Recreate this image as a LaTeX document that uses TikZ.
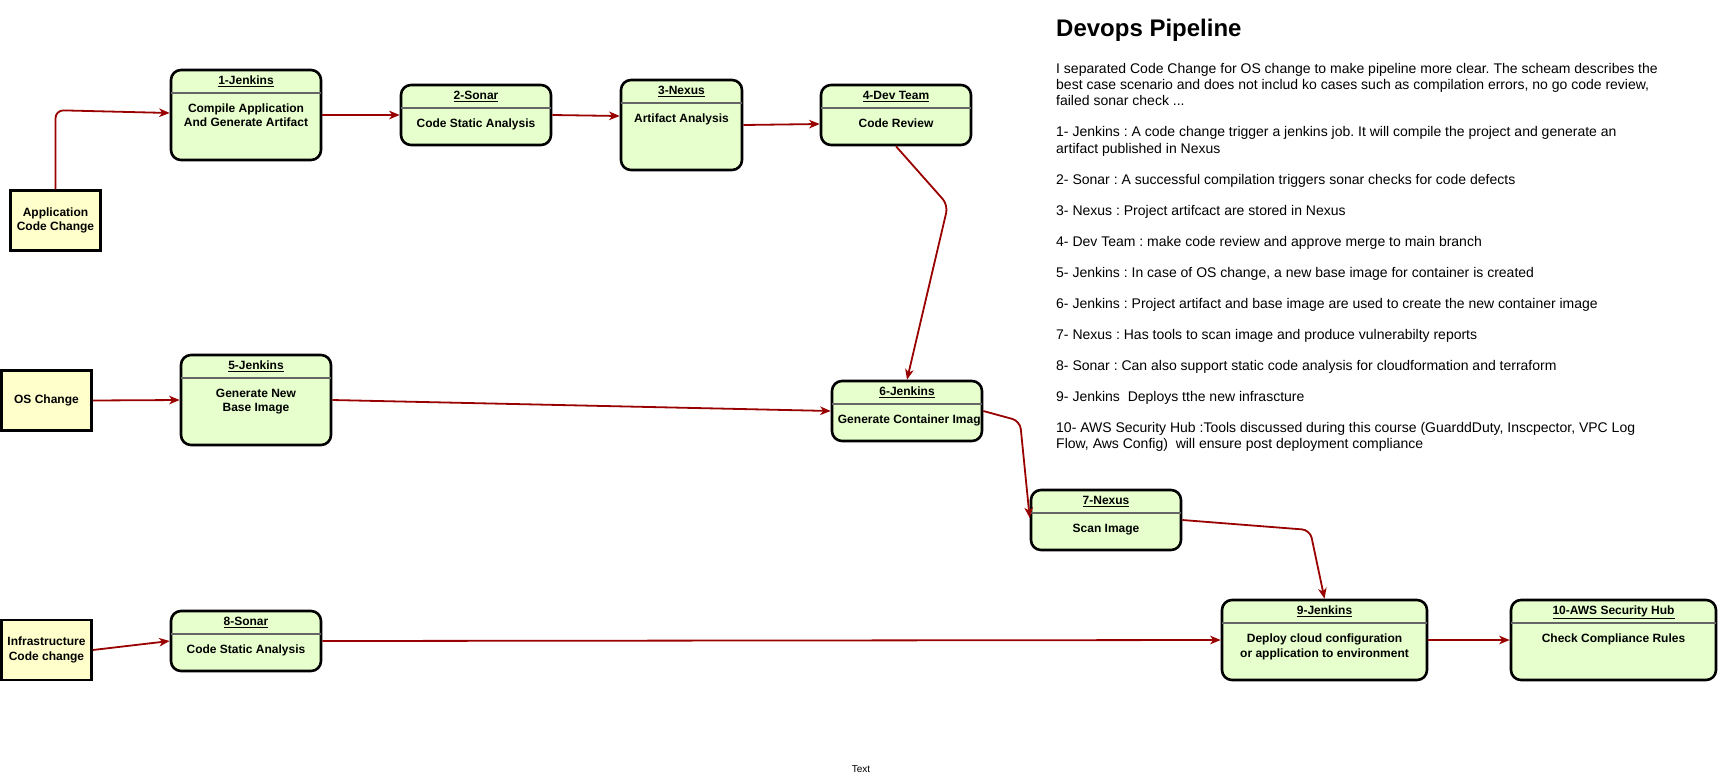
\documentclass[tikz,border=0pt]{standalone}
\usepackage{fontspec}
\setmainfont{Liberation Sans}
\usetikzlibrary{arrows.meta}
\definecolor{sLime}{HTML}{E6FFCC}
\definecolor{sCream}{HTML}{FFFFCC}
\definecolor{sRed}{HTML}{990000}
\definecolor{sGrey}{HTML}{666666}
\frenchspacing

\begin{document}
\begin{tikzpicture}[x=1pt,y=-1pt,>={Stealth[length=10.5pt,width=8.5pt,inset=3pt]}]
		\tikzstyle{STAGE} = [draw=black, line width=2.6pt, fill=sLime, rounded corners=10pt, minimum width=150pt, minimum height=60pt, inner sep=0pt]
		\tikzstyle{TALL} = [STAGE, minimum height=90pt]
		\tikzstyle{WIDE} = [STAGE, minimum width=205pt, minimum height=80pt]
		\tikzstyle{change} = [draw=black, line width=2.6pt, fill=sCream, minimum width=90pt, minimum height=60pt, inner sep=0pt, align=center, font=\fontsize{12}{14.4}\selectfont\bfseries]
		\tikzstyle{head} = [anchor=base, inner sep=0pt, font=\fontsize{12}{14.4}\selectfont\bfseries]
		\tikzstyle{body} = [anchor=north, inner sep=0pt, align=center, font=\fontsize{12}{14.4}\selectfont\bfseries]
		\tikzstyle{flow} = [->, draw=sRed, line width=1.8pt, rounded corners=8pt]
		\tikzset{HEAD/.style={append after command={
					[shorten >=1.3pt, shorten <=1.3pt]
					([yshift=-24pt]\tikzlastnode.north west) edge[draw=sGrey, line width=1.6pt] ([yshift=-24pt]\tikzlastnode.north east)
				}
			}
		}

		\useasboundingbox (0,0) rectangle (1718,777);

		% the three kinds of change
		\node[change] (app) at (55.5,220.5) {Application\\Code Change};
		\node[change] (os) at (46.5,400.5) {OS Change};
		\node[change] (infra) at (46.5,650) {Infrastructure\\Code change};

		% application code row
		\node[TALL, HEAD] (j1) at (246,115) {};
		\node[head] (t1) at ([yshift=-15.5pt]j1.north) {\underline{1-Jenkins}};
		\node[body] (b1) at ([yshift=-35pt]j1.north) {Compile Application\\And Generate Artifact};

		\node[STAGE, HEAD] (s2) at (476,115) {};
		\node[head] (t2) at ([yshift=-15.5pt]s2.north) {\underline{2-Sonar}};
		\node[body] (b2) at ([yshift=-35pt]s2.north) {Code Static Analysis};

		\node[TALL, HEAD, minimum width=121pt] (n3) at (681.5,125) {};
		\node[head] (t3) at ([yshift=-15.5pt]n3.north) {\underline{3-Nexus}};
		\node[body] (b3) at ([yshift=-35pt]n3.north) {Artifact Analysis};

		\node[STAGE, HEAD] (d4) at (896,115) {};
		\node[head] (t4) at ([yshift=-15.5pt]d4.north) {\underline{4-Dev Team}};
		\node[body] (b4) at ([yshift=-35pt]d4.north) {Code Review};

		% os row
		\node[TALL, HEAD] (j5) at (256,400) {};
		\node[head] (t5) at ([yshift=-15.5pt]j5.north) {\underline{5-Jenkins}};
		\node[body] (b5) at ([yshift=-35pt]j5.north) {Generate New\\Base Image};

		\node[STAGE, HEAD] (j6) at (907,411) {};
		\node[head] (t6) at ([yshift=-15.5pt]j6.north) {\underline{6-Jenkins}};
		\node[body, anchor=north west] (b6) at ([xshift=7pt, yshift=-35pt]j6.north west) {Generate Container Imag};

		\node[STAGE, HEAD] (n7) at (1106,520) {};
		\node[head] (t7) at ([yshift=-15.5pt]n7.north) {\underline{7-Nexus}};
		\node[body] (b7) at ([yshift=-35pt]n7.north) {Scan Image};

		% infrastructure row
		\node[STAGE, HEAD] (s8) at (246,641) {};
		\node[head] (t8) at ([yshift=-15.5pt]s8.north) {\underline{8-Sonar}};
		\node[body] (b8) at ([yshift=-35pt]s8.north) {Code Static Analysis};

		\node[WIDE, HEAD] (j9) at (1324.5,640) {};
		\node[head] (t9) at ([yshift=-15.5pt]j9.north) {\underline{9-Jenkins}};
		\node[body] (b9) at ([yshift=-35pt]j9.north) {Deploy cloud configuration\\or application to environment};

		\node[WIDE, HEAD] (h10) at (1613.5,640) {};
		\node[head] (t10) at ([yshift=-15.5pt]h10.north) {\underline{10-AWS Security Hub}};
		\node[body] (b10) at ([yshift=-35pt]h10.north) {Check Compliance Rules};

		% connectors
		\draw[flow] (app.north) -- ++(0,-79) -- ([yshift=2pt]j1.west);
		\draw[flow] (j1.east) -- (s2.west);
		\draw[flow] (s2.east) -- ([yshift=9pt]n3.west);
		\draw[flow] (n3.east) -- ([yshift=-9pt]d4.west);
		\draw[flow] (d4.south) -- (948,205) -- (j6.north);
		\draw[flow] (os.east) -- (j5.west);
		\draw[flow] (j5.east) -- (j6.west);
		\draw[flow] (j6.east) -- (1020,421) -- ([yshift=2pt]n7.west);
		\draw[flow] (n7.east) -- (1310,530) -- (j9.north);
		\draw[flow] (infra.east) -- (s8.west);
		\draw[flow] (s8.east) -- (j9.west);
		\draw[flow] (j9.east) -- (h10.west);

		% notes
		\node[anchor=base west, inner sep=0pt, font=\fontsize{24}{28}\selectfont\bfseries] (title) at (1056,36) {Devops Pipeline};
		\node[anchor=north west, inner sep=0pt, align=left, font=\fontsize{14}{16.4}\selectfont] (notes) at (1056,62.8) {I separated Code Change for OS change to make pipeline more clear. The scheam describes the\\
			best case scenario and does not includ ko cases such as compilation errors, no go code review,\\
			failed sonar check ...\\[14.6pt]
			1- Jenkins : A code change trigger a jenkins job. It will compile the project and generate an\\
			artifact published in Nexus\\[14.6pt]
			2- Sonar : A successful compilation triggers sonar checks for code defects\\[14.6pt]
			3- Nexus : Project artifcact are stored in Nexus\\[14.6pt]
			4- Dev Team : make code review and approve merge to main branch\\[14.6pt]
			5- Jenkins : In case of OS change, a new base image for container is created\\[14.6pt]
			6- Jenkins : Project artifact and base image are used to create the new container image\\[14.6pt]
			7- Nexus : Has tools to scan image and produce vulnerabilty reports\\[14.6pt]
			8- Sonar : Can also support static code analysis for cloudformation and terraform\\[14.6pt]
			9- Jenkins\ \ Deploys tthe new infrascture\\[14.6pt]
			10- AWS Security Hub :Tools discussed during this course (GuarddDuty, Inscpector, VPC Log\\
			Flow, Aws Config)\ \ will ensure post deployment compliance};
		\node[inner sep=0pt, font=\fontsize{10}{12}\selectfont] (txt) at (861,769) {Text};

\end{tikzpicture}
\end{document}
